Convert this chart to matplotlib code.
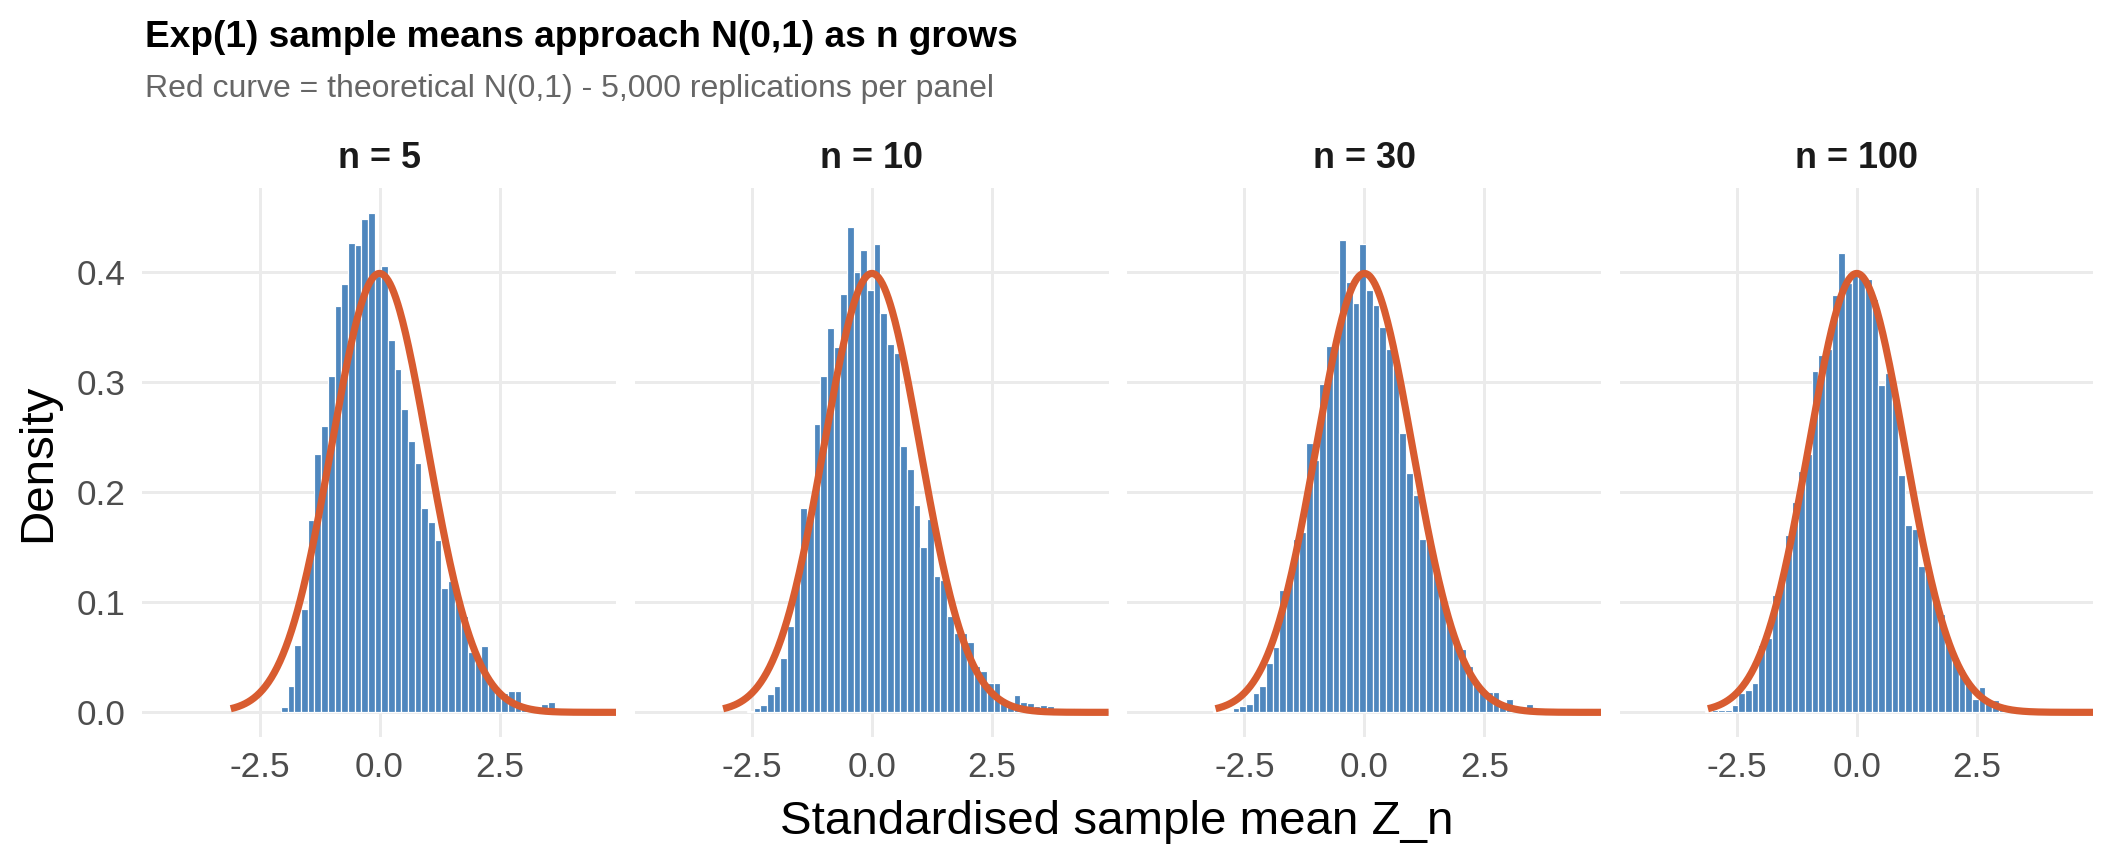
import numpy as np
import matplotlib
matplotlib.use("Agg")
import matplotlib.pyplot as plt

plt.rcParams["font.family"] = ["Liberation Sans", "DejaVu Sans"]

# histogram bins shared by every panel (density scale)
BIN_WIDTH = 0.139
BIN_ORIGIN = 0.035

panel_labels = ["n = 5", "n = 10", "n = 30", "n = 100"]
first_bin = [-15, -19, -23, -23]

dens_n5 = [0.0052, 0.0239, 0.0612, 0.0942, 0.175, 0.235, 0.260, 0.306, 0.369, 0.389,
           0.427, 0.425, 0.448, 0.454, 0.397, 0.406, 0.338, 0.312, 0.276, 0.247,
           0.227, 0.186, 0.173, 0.157, 0.113, 0.119, 0.099, 0.088, 0.055, 0.046,
           0.060, 0.027, 0.019, 0.018, 0.0197, 0.0197, 0.004, 0.003, 0.005, 0.008,
           0.0097]
dens_n10 = [0.001, 0.0037, 0.0068, 0.0167, 0.024, 0.0497, 0.0785, 0.117, 0.1855, 0.180,
            0.262, 0.306, 0.349, 0.332, 0.380, 0.441, 0.4006, 0.4206, 0.3837, 0.426,
            0.363, 0.3345, 0.327, 0.2425, 0.221, 0.1885, 0.150, 0.176, 0.124, 0.120,
            0.088, 0.072, 0.072, 0.064, 0.042, 0.038, 0.027, 0.027, 0.011, 0.008,
            0.0155, 0.0097, 0.0082, 0.0055, 0.007, 0.0055, 0.002, 0.0014, 0.0014, 0.004]
dens_n30 = [0.001, 0.0015, 0.0015, 0.004, 0.0055, 0.008, 0.018, 0.024, 0.045, 0.0597,
            0.111, 0.121, 0.158, 0.164, 0.245, 0.229, 0.298, 0.333, 0.340, 0.429,
            0.391, 0.372, 0.426, 0.384, 0.370, 0.350, 0.330, 0.315, 0.254, 0.218,
            0.198, 0.158, 0.157, 0.131, 0.106, 0.083, 0.064, 0.058, 0.042, 0.027,
            0.019, 0.0188, 0.0188, 0.007, 0.0124, 0.003, 0.002, 0.008, 0.001, 0.001,
            0.004]
dens_n100 = [0.001, 0.002, 0.002, 0.002, 0.0067, 0.018, 0.0206, 0.027, 0.061, 0.068,
             0.107, 0.118, 0.161, 0.191, 0.219, 0.235, 0.310, 0.325, 0.330, 0.379,
             0.4175, 0.390, 0.400, 0.398, 0.394, 0.376, 0.2975, 0.308, 0.285, 0.216,
             0.170, 0.167, 0.1327, 0.128, 0.105, 0.089, 0.066, 0.050, 0.039, 0.027,
             0.0124, 0.0227, 0.011, 0.011, 0.008, 0.002]
panel_dens = [dens_n5, dens_n10, dens_n30, dens_n100]

x_ticks = [-2.5, 0.0, 2.5]
y_ticks = [0.0, 0.1, 0.2, 0.3, 0.4]
curve_range = (-3.1, 4.93)

BAR_COLOR = "#4F87BE"
CURVE_COLOR = "#D85C30"
GRID_COLOR = "#EBEBEB"

W, H = 2112, 864
fig = plt.figure(figsize=(11, 4.5), dpi=192)

panel_left = 142.4
panel_step = 492.4
panel_w = 473.8
ax_bottom = 126.7 / H
ax_height = (737.3 - 187.9) / H

xc = np.linspace(curve_range[0], curve_range[1], 400)
pdf = np.exp(-xc ** 2 / 2) / np.sqrt(2 * np.pi)

for i, (label, start, dens) in enumerate(zip(panel_labels, first_bin, panel_dens)):
    left = (panel_left + i * panel_step) / W
    ax = fig.add_axes([left, ax_bottom, panel_w / W, ax_height])
    edges = BIN_ORIGIN + (start + np.arange(len(dens))) * BIN_WIDTH
    ax.bar(edges, dens, width=BIN_WIDTH, align="edge", color=BAR_COLOR,
           edgecolor="white", linewidth=0.45, zorder=2)
    ax.plot(xc, pdf, color=CURVE_COLOR, lw=2.7, zorder=3, solid_capstyle="butt")
    ax.set_xlim(-4.94, 4.93)
    ax.set_ylim(-0.0227, 0.4767)
    ax.set_xticks(x_ticks)
    ax.set_xticklabels([f"{t:.1f}" for t in x_ticks])
    ax.set_yticks(y_ticks)
    if i == 0:
        ax.set_yticklabels([f"{t:.1f}" for t in y_ticks])
    else:
        ax.set_yticklabels([])
    ax.set_axisbelow(True)
    ax.grid(True, color=GRID_COLOR, lw=1.1)
    for s in ax.spines.values():
        s.set_visible(False)
    ax.tick_params(length=0, labelsize=13.2, labelcolor="#4D4D4D")
    ax.tick_params(axis="x", pad=5)
    ax.tick_params(axis="y", pad=6.5)
    cx = (panel_left + i * panel_step + panel_w / 2) / W
    fig.text(cx, 1 - 168 / H, label, ha="center", va="baseline",
             fontsize=13.5, fontweight="bold", color="#1A1A1A")

fig.text(145 / W, 1 - 47 / H, "Exp(1) sample means approach N(0,1) as n grows",
         ha="left", va="baseline", fontsize=13.9, fontweight="bold", color="black")
fig.text(145 / W, 1 - 96.7 / H,
         "Red curve = theoretical N(0,1) - 5,000 replications per panel",
         ha="left", va="baseline", fontsize=12, color="#666666")
fig.text(1117 / W, 1 - 834 / H, "Standardised sample mean Z_n", ha="center",
         va="baseline", fontsize=17.8, color="black")
fig.text(38 / W, 1 - 462.6 / H, "Density", ha="center", va="center",
         rotation=90, fontsize=17.8, color="black")

fig.savefig("out.png", dpi=192, facecolor="white")
